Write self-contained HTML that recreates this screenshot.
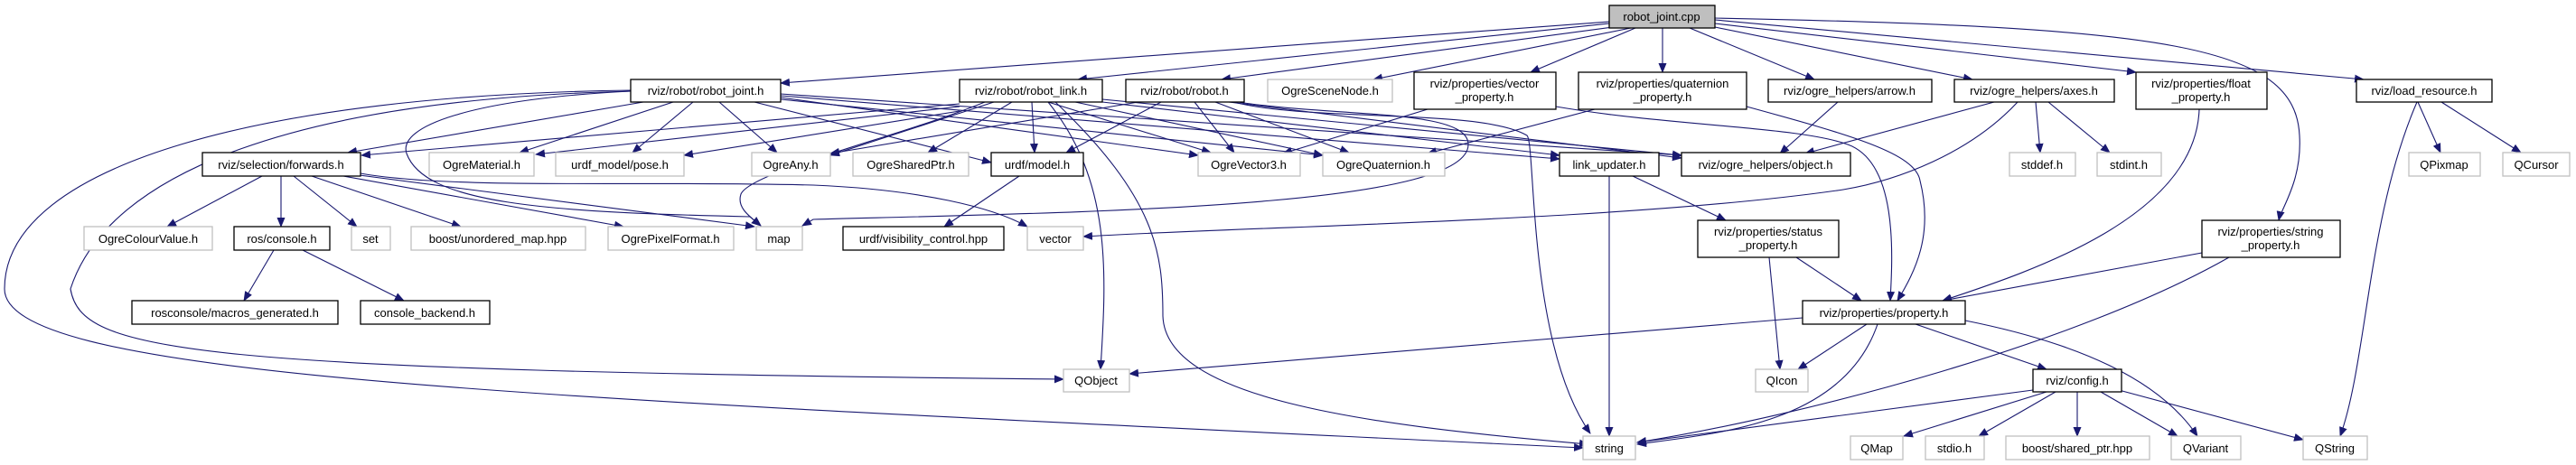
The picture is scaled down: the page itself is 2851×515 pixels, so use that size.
<!DOCTYPE html>
<html><head><meta charset="utf-8"><style>
html,body{margin:0;padding:0;background:#fff;}
svg{display:block;}
text{font-family:"Liberation Sans",sans-serif;font-size:13px;fill:#000;text-anchor:middle;}
.b{fill:#fff;stroke:#000;stroke-width:1.3;}
.g{fill:#fff;stroke:#bfbfbf;stroke-width:1.3;}
.e{fill:none;stroke:#191970;stroke-width:1.1;marker-end:url(#a);}
</style></head><body>
<svg width="2851" height="515" viewBox="0 0 2851 515" xmlns="http://www.w3.org/2000/svg">
<defs><marker id="a" markerWidth="11" markerHeight="9" refX="10" refY="4.5" orient="auto" markerUnits="userSpaceOnUse"><path d="M0,0 L11,4.5 L0,9 z" fill="#191970"/></marker></defs>
<g>
<!-- robot_joint.cpp edges -->
<path class="e" d="M1781,24 L864,92"/>
<path class="e" d="M1781,26 L1193,88"/>
<path class="e" d="M1785,30 L1352,88"/>
<path class="e" d="M1805,31 L1520,88"/>
<path class="e" d="M1810,31 L1694,80"/>
<path class="e" d="M1840,31 L1840,80"/>
<path class="e" d="M1870,31 L2008,88"/>
<path class="e" d="M1898,30 L2183,88"/>
<path class="e" d="M1898,26 L2364,80"/>
<path class="e" d="M1898,22 L2616,88"/>
<path class="e" d="M1898,20 C2400,30 2540,50 2545,150 C2548,200 2525,230 2522,244"/>
<!-- robot_joint.h -->
<path class="e" d="M712,113 L385,169"/>
<path class="e" d="M745,113 L575,169"/>
<path class="e" d="M767,113 L700,169"/>
<path class="e" d="M796,113 L860,169"/>
<path class="e" d="M835,113 L1097,180"/>
<path class="e" d="M864,108 L1326,172"/>
<path class="e" d="M864,110 L1464,172"/>
<path class="e" d="M864,104 L1861,172"/>
<path class="e" d="M864,106 L1726,176"/>
<path class="e" d="M698,101 C520,110 440,140 450,170 C470,225 600,235 830,240 L842,250"/>
<path class="e" d="M698,101 C330,110 120,190 78,320 C90,390 200,410 1177,420"/>
<path class="e" d="M698,100 C300,105 5,180 5,320 C5,420 600,440 1752,496"/>
<!-- robot_link.h -->
<path class="e" d="M1062,115 L400,172"/>
<path class="e" d="M1062,118 L593,171"/>
<path class="e" d="M1062,123 L757,172"/>
<path class="e" d="M1100,113 L919,172"/>
<path class="e" d="M1120,113 L1027,169"/>
<path class="e" d="M1142,113 L1145,169"/>
<path class="e" d="M1160,113 L1340,169"/>
<path class="e" d="M1190,113 L1464,172"/>
<path class="e" d="M1220,113 L1726,172"/>
<path class="e" d="M1220,110 L1861,172"/>
<path class="e" d="M1160,113 C1230,200 1225,300 1218,409"/>
<path class="e" d="M1168,113 C1280,220 1287,280 1287,350 C1290,440 1500,470 1758,492"/>
<path class="e" d="M1090,113 C1000,150 830,190 820,215 C815,230 830,240 842,250"/>
<!-- robot.h -->
<path class="e" d="M1260,113 L919,170"/>
<path class="e" d="M1285,113 L1180,169"/>
<path class="e" d="M1322,113 L1366,169"/>
<path class="e" d="M1345,113 L1493,169"/>
<path class="e" d="M1360,113 L1861,175"/>
<path class="e" d="M1365,113 C1450,135 1640,120 1690,150 C1700,160 1690,380 1760,480"/>
<path class="e" d="M1370,113 C1480,130 1625,120 1625,160 C1625,230 1200,235 900,243 L888,250"/>
<!-- forwards.h -->
<path class="e" d="M290,195 L185,251"/>
<path class="e" d="M311,195 L311,251"/>
<path class="e" d="M325,195 L395,251"/>
<path class="e" d="M345,195 L510,251"/>
<path class="e" d="M380,195 L690,251"/>
<path class="e" d="M390,193 L835,251"/>
<path class="e" d="M399,192 C500,210 700,200 900,205 C1020,210 1100,230 1137,251"/>
<path class="e" d="M303,277 L270,333"/>
<path class="e" d="M335,277 L447,333"/>
<path class="e" d="M1128,195 L1045,251"/>
<!-- vector/quaternion property -->
<path class="e" d="M1580,121 L1420,170"/>
<path class="e" d="M1765,121 L1580,170"/>
<path class="e" d="M1722,118 C1850,140 1990,140 2045,160 C2100,180 2095,280 2092,333"/>
<path class="e" d="M1933,118 C2050,150 2120,170 2125,200 C2140,260 2120,300 2100,333"/>
<!-- link_updater -->
<path class="e" d="M1781,195 L1781,483"/>
<path class="e" d="M1807,195 L1910,244"/>
<!-- arrow/axes -->
<path class="e" d="M2034,113 L1970,170"/>
<path class="e" d="M2207,113 L1998,170"/>
<path class="e" d="M2233,113 C2180,170 2100,200 2040,210 C1800,245 1400,250 1199,262"/>
<path class="e" d="M2253,113 L2258,169"/>
<path class="e" d="M2267,113 L2335,169"/>
<!-- float / string / load -->
<path class="e" d="M2434,121 C2430,240 2250,300 2150,333"/>
<path class="e" d="M2437,280 L2150,333"/>
<path class="e" d="M2467,285 C2300,380 2000,460 1812,490"/>
<path class="e" d="M2676,113 L2701,169"/>
<path class="e" d="M2702,113 L2790,169"/>
<path class="e" d="M2675,113 C2620,240 2620,400 2590,483"/>
<!-- status_property -->
<path class="e" d="M1958,285 L1970,409"/>
<path class="e" d="M1988,285 L2060,333"/>
<!-- property.h -->
<path class="e" d="M1995,352 L1250,414"/>
<path class="e" d="M2066,359 L1990,409"/>
<path class="e" d="M2078,359 C2040,470 1900,480 1812,492"/>
<path class="e" d="M2120,359 L2265,409"/>
<path class="e" d="M2175,355 C2300,380 2390,420 2432,483"/>
<!-- config.h -->
<path class="e" d="M2250,432 L1812,490"/>
<path class="e" d="M2265,434 L2107,483"/>
<path class="e" d="M2275,434 L2190,483"/>
<path class="e" d="M2299,434 L2299,483"/>
<path class="e" d="M2325,434 L2410,483"/>
<path class="e" d="M2345,432 L2549,487"/>
</g>
<g>
<rect x="1781" y="6" width="117" height="25" fill="#bfbfbf" stroke="#000" stroke-width="1.3"/><text x="1839" y="23">robot_joint.cpp</text>
<rect class="b" x="698" y="88" width="166" height="25"/><text x="781" y="105">rviz/robot/robot_joint.h</text>
<rect class="b" x="1062" y="88" width="158" height="25"/><text x="1141" y="105">rviz/robot/robot_link.h</text>
<rect class="b" x="1246" y="88" width="131" height="25"/><text x="1311" y="105">rviz/robot/robot.h</text>
<rect class="g" x="1403" y="88" width="138" height="25"/><text x="1472" y="105">OgreSceneNode.h</text>
<rect class="b" x="1565" y="80" width="157" height="41"/><text x="1643" y="97">rviz/properties/vector</text><text x="1643" y="112">_property.h</text>
<rect class="b" x="1747" y="80" width="186" height="41"/><text x="1840" y="97">rviz/properties/quaternion</text><text x="1840" y="112">_property.h</text>
<rect class="b" x="1957" y="88" width="181" height="25"/><text x="2047" y="105">rviz/ogre_helpers/arrow.h</text>
<rect class="b" x="2163" y="88" width="177" height="25"/><text x="2251" y="105">rviz/ogre_helpers/axes.h</text>
<rect class="b" x="2364" y="80" width="145" height="41"/><text x="2436" y="97">rviz/properties/float</text><text x="2436" y="112">_property.h</text>
<rect class="b" x="2608" y="88" width="150" height="25"/><text x="2683" y="105">rviz/load_resource.h</text>

<rect class="b" x="224" y="169" width="175" height="26"/><text x="311" y="187">rviz/selection/forwards.h</text>
<rect class="g" x="475" y="169" width="116" height="26"/><text x="533" y="187">OgreMaterial.h</text>
<rect class="g" x="615" y="169" width="142" height="26"/><text x="686" y="187">urdf_model/pose.h</text>
<rect class="g" x="832" y="169" width="87" height="26"/><text x="875" y="187">OgreAny.h</text>
<rect class="g" x="944" y="169" width="128" height="26"/><text x="1008" y="187">OgreSharedPtr.h</text>
<rect class="b" x="1097" y="169" width="102" height="26"/><text x="1148" y="187">urdf/model.h</text>
<rect class="g" x="1326" y="169" width="113" height="26"/><text x="1382" y="187">OgreVector3.h</text>
<rect class="g" x="1464" y="169" width="135" height="26"/><text x="1531" y="187">OgreQuaternion.h</text>
<rect class="b" x="1726" y="169" width="110" height="26"/><text x="1781" y="187">link_updater.h</text>
<rect class="b" x="1861" y="169" width="187" height="26"/><text x="1954" y="187">rviz/ogre_helpers/object.h</text>
<rect class="g" x="2224" y="169" width="73" height="26"/><text x="2260" y="187">stddef.h</text>
<rect class="g" x="2321" y="169" width="71" height="26"/><text x="2356" y="187">stdint.h</text>
<rect class="g" x="2666" y="169" width="79" height="26"/><text x="2705" y="187">QPixmap</text>
<rect class="g" x="2770" y="169" width="74" height="26"/><text x="2807" y="187">QCursor</text>

<rect class="g" x="93" y="251" width="142" height="26"/><text x="164" y="269">OgreColourValue.h</text>
<rect class="b" x="259" y="251" width="106" height="26"/><text x="312" y="269">ros/console.h</text>
<rect class="g" x="389" y="251" width="43" height="26"/><text x="410" y="269">set</text>
<rect class="g" x="455" y="251" width="193" height="26"/><text x="551" y="269">boost/unordered_map.hpp</text>
<rect class="g" x="673" y="251" width="139" height="26"/><text x="742" y="269">OgrePixelFormat.h</text>
<rect class="g" x="837" y="251" width="51" height="26"/><text x="862" y="269">map</text>
<rect class="b" x="933" y="251" width="178" height="26"/><text x="1022" y="269">urdf/visibility_control.hpp</text>
<rect class="g" x="1137" y="251" width="62" height="26"/><text x="1168" y="269">vector</text>
<rect class="b" x="1879" y="244" width="156" height="41"/><text x="1957" y="261">rviz/properties/status</text><text x="1957" y="276">_property.h</text>
<rect class="b" x="2437" y="244" width="153" height="41"/><text x="2513" y="261">rviz/properties/string</text><text x="2513" y="276">_property.h</text>

<rect class="b" x="146" y="333" width="228" height="26"/><text x="260" y="351">rosconsole/macros_generated.h</text>
<rect class="b" x="399" y="333" width="143" height="26"/><text x="470" y="351">console_backend.h</text>
<rect class="b" x="1995" y="333" width="180" height="26"/><text x="2085" y="351">rviz/properties/property.h</text>

<rect class="g" x="1177" y="409" width="73" height="25"/><text x="1213" y="426">QObject</text>
<rect class="g" x="1943" y="409" width="58" height="25"/><text x="1972" y="426">QIcon</text>
<rect class="b" x="2250" y="409" width="98" height="25"/><text x="2299" y="426">rviz/config.h</text>

<rect class="g" x="1752" y="483" width="58" height="26"/><text x="1781" y="501">string</text>
<rect class="g" x="2048" y="483" width="58" height="26"/><text x="2077" y="501">QMap</text>
<rect class="g" x="2131" y="483" width="65" height="26"/><text x="2163" y="501">stdio.h</text>
<rect class="g" x="2220" y="483" width="159" height="26"/><text x="2299" y="501">boost/shared_ptr.hpp</text>
<rect class="g" x="2403" y="483" width="77" height="26"/><text x="2441" y="501">QVariant</text>
<rect class="g" x="2549" y="483" width="71" height="26"/><text x="2584" y="501">QString</text>
</g>
</svg>
</body></html>
